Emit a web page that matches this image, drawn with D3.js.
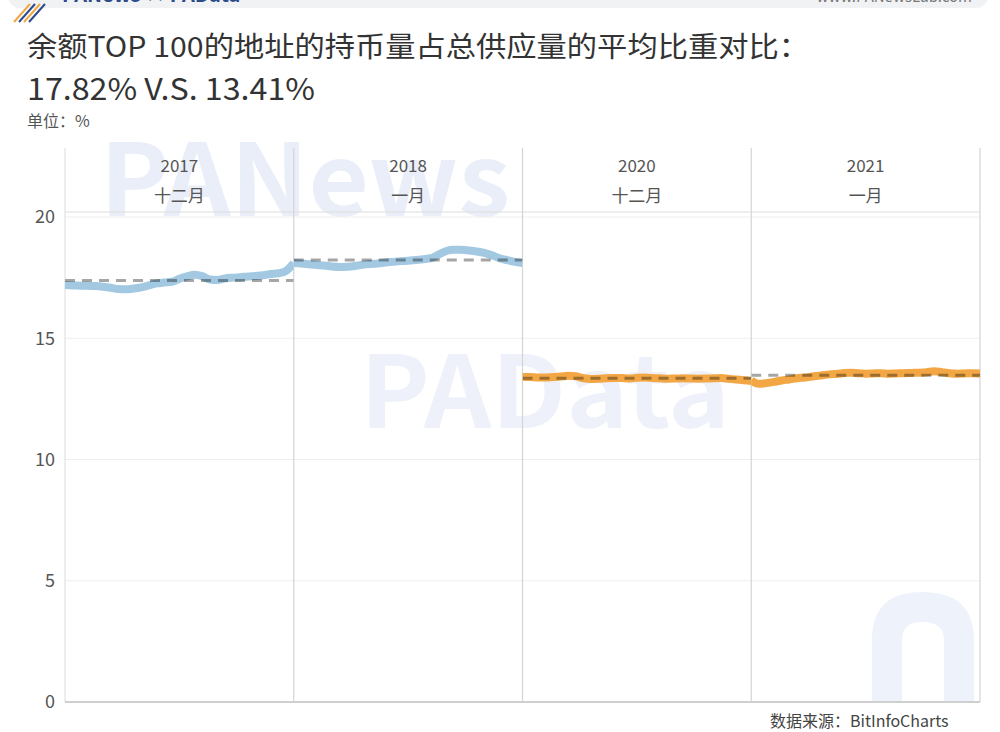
<!DOCTYPE html>
<html><head><meta charset="utf-8">
<script src="https://cdn.jsdelivr.net/npm/d3@7"></script>
<style>
html,body{margin:0;padding:0;background:#fff;}
svg{display:block;}
text{font-family:"Noto Sans CJK SC","Noto Sans",sans-serif;}
</style></head>
<body><svg id="chart" width="1000" height="732"></svg>
<script>
// ---- data ----
const panelYears = ["2017", "2018", "2020", "2021"];
const panelMonths = ["十二月", "一月", "十二月", "一月"];
const dec2017 = [17.20,17.18,17.17,17.16,17.15,17.12,17.08,17.03,17.02,17.05,17.10,17.18,17.26,17.30,17.33,17.45,17.55,17.62,17.56,17.42,17.40,17.47,17.50,17.52,17.55,17.57,17.60,17.65,17.68,17.78,18.10];
const jan2018 = [18.10,18.08,18.05,18.02,18.00,17.96,17.94,17.95,17.98,18.03,18.06,18.08,18.12,18.15,18.18,18.20,18.23,18.26,18.30,18.45,18.60,18.65,18.65,18.62,18.58,18.52,18.42,18.30,18.22,18.15,18.10];
const dec2020 = [13.40,13.40,13.38,13.38,13.40,13.42,13.45,13.43,13.35,13.32,13.33,13.35,13.36,13.36,13.34,13.37,13.38,13.36,13.35,13.33,13.34,13.35,13.34,13.33,13.34,13.35,13.36,13.33,13.30,13.27,13.24];
const jan2021 = [13.25,13.12,13.15,13.20,13.26,13.30,13.35,13.38,13.42,13.46,13.50,13.53,13.56,13.58,13.56,13.54,13.55,13.56,13.54,13.55,13.56,13.57,13.58,13.60,13.64,13.60,13.56,13.54,13.55,13.56,13.55];
const panelSeries = [dec2017, jan2018, dec2020, jan2021];
const panelColors = ["#a3c9e2", "#a3c9e2", "#f2a744", "#f2a744"];
const yTicks = [0, 5, 10, 15, 20];
const titleLine1 = "余额TOP 100的地址的持币量占总供应量的平均比重对比：";
const titleLine2 = "17.82% V.S. 13.41%";
const unitLabel = "单位：%";
const sourceLabel = "数据来源：BitInfoCharts";

// ---- layout ----
const svg = d3.select("#chart");
const left = 65, right = 980, headerTop = 148, headerBottom = 212, bottom = 702;
const x = d3.scaleBand().domain(panelYears.map((d,i)=>i)).range([left, right]).padding(0);
const y = d3.scaleLinear().domain([0, 20]).range([bottom, 217]);

// top bar (cropped banner)
svg.append("rect").attr("x", 8).attr("y", -30).attr("width", 980).attr("height", 38)
  .attr("rx", 12).attr("fill", "#f1f2f4");
const stripes = svg.append("g");
[["#f2a744",0],["#2d4a8a",5],["#f2a744",10],["#2d4a8a",15]].forEach(([c,o])=>{
  stripes.append("line").attr("x1", 14+o).attr("y1", 22).attr("x2", 30+o).attr("y2", 4)
    .attr("stroke", c).attr("stroke-width", 2);
});
svg.append("text").attr("x", 62).attr("y", 2).attr("font-size", 20).attr("font-weight", "bold")
  .attr("fill", "#2d4a8a").text("PANews × PAData");
svg.append("text").attr("x", 972).attr("y", 2).attr("text-anchor", "end").attr("font-size", 15)
  .attr("fill", "#777").text("www.PANewsLab.com");

// watermarks
const wm = svg.append("g");
wm.append("text").attr("x", 100).attr("y", 216).attr("font-size", 100).attr("font-weight", "bold")
  .attr("font-family", "Inter, sans-serif").attr("fill", "#eaeef8")
  .attr("textLength", 410).attr("lengthAdjust", "spacingAndGlyphs").text("PANews");
wm.append("text").attr("x", 360).attr("y", 428).attr("font-size", 100).attr("font-weight", "bold")
  .attr("font-family", "Inter, sans-serif").attr("fill", "#eef1f9")
  .attr("textLength", 370).attr("lengthAdjust", "spacingAndGlyphs").text("PAData");
wm.append("path").attr("d", "M872,702 L872,640 Q872,592 922,592 Q974,592 974,640 L974,702 L944,702 L944,640 Q944,622 922,622 Q902,622 902,640 L902,702 Z")
  .attr("fill", "#eef2fa");

// titles
svg.append("text").attr("x", 27).attr("y", 57).attr("font-size", 28).attr("fill", "#333")
  .attr("textLength", 782).attr("lengthAdjust", "spacingAndGlyphs").text(titleLine1);
svg.append("text").attr("x", 27).attr("y", 100).attr("font-size", 30).attr("fill", "#333")
  .attr("textLength", 288).attr("lengthAdjust", "spacingAndGlyphs").text(titleLine2);
svg.append("text").attr("x", 27).attr("y", 127).attr("font-size", 16).attr("fill", "#555").text(unitLabel);

// gridlines
svg.append("g").selectAll("line").data(yTicks.filter(d=>d>0)).join("line")
  .attr("x1", left).attr("x2", right).attr("y1", d=>y(d)).attr("y2", d=>y(d))
  .attr("stroke", "#eeeeee").attr("stroke-width", 1);

// header bottom line
svg.append("line").attr("x1", left).attr("x2", right).attr("y1", headerBottom).attr("y2", headerBottom)
  .attr("stroke", "#dddddd").attr("stroke-width", 1);

// panel dividers
const divs = panelYears.map((d,i)=>x(i)).concat([right]);
svg.append("g").selectAll("line").data(divs).join("line")
  .attr("x1", d=>d).attr("x2", d=>d).attr("y1", headerTop).attr("y2", bottom)
  .attr("stroke", (d,i)=> i===0 ? "#e2e2e2" : "#d4d4d4").attr("stroke-width", 1.2);

// bottom axis line
svg.append("line").attr("x1", left).attr("x2", right).attr("y1", bottom).attr("y2", bottom)
  .attr("stroke", "#cfcfcf").attr("stroke-width", 2);

// y axis labels
const yAxis = d3.axisLeft(y).tickValues(yTicks).tickSize(0).tickPadding(10);
const ga = svg.append("g").attr("transform", `translate(${left},0)`).call(yAxis);
ga.select(".domain").remove();
ga.selectAll("text").attr("font-size", 18).attr("fill", "#555")
  .attr("font-family", "Lato, 'Noto Sans', sans-serif");

// header labels
const hdr = svg.append("g").selectAll("g").data(panelYears).join("g")
  .attr("transform", (d,i)=>`translate(${x(i)+x.bandwidth()/2},0)`);
hdr.append("text").attr("y", 172).attr("text-anchor", "middle").attr("font-size", 17)
  .attr("fill", "#555").attr("font-family", "Lato, 'Noto Sans', sans-serif").text(d=>d);
hdr.append("text").attr("y", 202).attr("text-anchor", "middle").attr("font-size", 17)
  .attr("fill", "#555").text((d,i)=>panelMonths[i]);

// clip paths + lines
const defs = svg.append("defs");
panelSeries.forEach((vals, i) => {
  const x0 = x(i), x1 = x(i) + x.bandwidth();
  defs.append("clipPath").attr("id", "clip" + i).append("rect")
    .attr("x", x0).attr("y", headerBottom).attr("width", x.bandwidth()).attr("height", bottom - headerBottom);
  const xs = d3.scaleLinear().domain([0, vals.length - 1]).range([x0, x1]);
  const line = d3.line().x((d,j)=>xs(j)).y(d=>y(d)).curve(d3.curveMonotoneX);
  const g = svg.append("g").attr("clip-path", `url(#clip${i})`);
  g.append("path").datum(vals).attr("d", line).attr("fill", "none")
    .attr("stroke", panelColors[i]).attr("stroke-width", 8).attr("stroke-linejoin", "round");
  const m = d3.mean(vals);
  g.append("line").attr("x1", x0).attr("x2", x1).attr("y1", y(m)).attr("y2", y(m))
    .attr("stroke", "#a6a6a6").attr("stroke-width", 3).attr("stroke-dasharray", "10,7")
    .style("mix-blend-mode", "multiply");
});

// source
svg.append("text").attr("x", 770).attr("y", 727).attr("font-size", 16).attr("fill", "#444")
  .text(sourceLabel);
</script></body></html>
